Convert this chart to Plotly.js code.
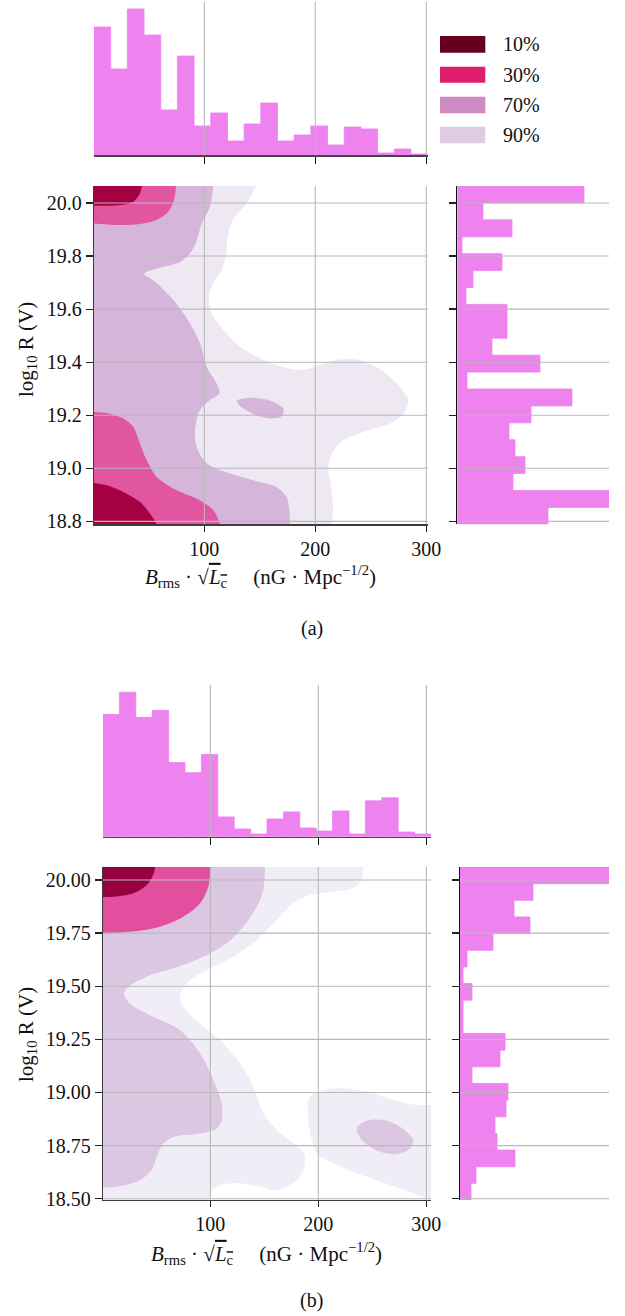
<!DOCTYPE html>
<html>
<head>
<meta charset="utf-8">
<script src="https://cdn.plot.ly/plotly-3.0.1.min.js"></script>
<style>html,body{margin:0;padding:0;background:#fff;}#chart{width:625px;height:1316px;}</style>
</head>
<body>
<div id="chart"></div>
<script>
// ---------------- DATA ----------------
const levels = ['10%', '30%', '70%', '90%'];
const legendColors = ['#67001f', '#de1d6e', '#cd8ac3', '#dfcbe3'];
const fillColorsA = ['#a50041', '#e255a0', '#d5b5da', '#eee8f3'];
const fillColorsB = ['#99003f', '#e24f9f', '#dcc7e2', '#f1edf6'];

const xTicks = [100, 200, 300];
const yTicksA = [18.8, 19.0, 19.2, 19.4, 19.6, 19.8, 20.0];
const yTicksB = [18.5, 18.75, 19.0, 19.25, 19.5, 19.75, 20.0];

// data extents (bin ranges)
const xRangeA = [0.6, 301.2];
const yRangeA = [18.789, 20.064];
const xRangeB = [0.6, 304.3];
const yRangeB = [18.494, 20.061];

// marginal histograms (20 bins each, relative heights)
const topHistA = [385, 259, 439, 361, 136, 298, 88, 127, 43, 94, 157, 43, 61, 88, 31, 85, 79, 7, 19, 4];
const rightHistA = [272, 455, 167, 203, 173, 155, 221, 344, 29, 248, 104, 149, 149, 26, 47, 134, 14, 164, 77, 380];
const topHistB = [365, 431, 356, 377, 221, 191, 245, 59, 23, 8, 53, 74, 26, 17, 77, 8, 107, 116, 14, 8];
const rightHistB = [33, 48, 165, 111, 105, 138, 144, 36, 120, 135, 9, 9, 36, 9, 21, 99, 210, 162, 219, 447];

// panel (a) contour outlines
const a90x = [-20, 154, 146.6, 138.3, 125.7, 121.3, 119.5, 115.7, 107.8, 104.2, 106.7, 117.1, 132.2, 147.2, 165.2, 183.2, 195.2, 207.2, 222.3, 237.3, 255.3, 273.3, 283.8, 279.3, 267.3, 243.2, 225.2, 214.8, 211.7, 213.2, 216, 215, 215, -20];
const a90y = [20.12, 20.12, 20.064, 20.0, 19.936, 19.879, 19.804, 19.747, 19.698, 19.645, 19.585, 19.521, 19.458, 19.42, 19.389, 19.372, 19.376, 19.395, 19.410, 19.410, 19.382, 19.320, 19.257, 19.206, 19.169, 19.137, 19.106, 19.055, 19.005, 18.955, 18.853, 18.789, 18.72, 18.72];
const a70x = [-20, 108.8, 108.0, 105.1, 97.7, 93.2, 87.1, 78.1, 63.1, 48.1, 45.7, 47.5, 54.1, 72.1, 87.1, 96.1, 102.2, 111.2, 113.5, 105.1, 96.1, 91.6, 93.2, 102.2, 123.2, 143.9, 165.2, 174.2, 176.6, 177.2, 177.3, -20];
const a70y = [20.12, 20.12, 20.064, 19.986, 19.923, 19.860, 19.810, 19.778, 19.760, 19.741, 19.732, 19.725, 19.709, 19.634, 19.546, 19.471, 19.382, 19.320, 19.282, 19.257, 19.219, 19.143, 19.080, 19.018, 18.980, 18.955, 18.929, 18.892, 18.842, 18.789, 18.72, 18.72];
const a70ex = [129.2, 138.2, 150.2, 162.2, 171.2, 169.7, 159.2, 147.2, 135.1, 129.2];
const a70ey = [19.254, 19.265, 19.263, 19.250, 19.225, 19.196, 19.188, 19.200, 19.225, 19.254];
const a30tx = [-20, 76, 74.5, 72.7, 67.6, 57.1, 42.1, 24.1, 0.6, -20];
const a30ty = [20.12, 20.12, 20.064, 20.011, 19.967, 19.936, 19.921, 19.917, 19.923, 19.925];
const a10tx = [-20, 45, 43.6, 42.1, 36.0, 24.1, 6.0, -20];
const a10ty = [20.12, 20.12, 20.064, 20.037, 20.005, 19.992, 19.990, 19.992];
const a30bx = [-20, 0.6, 15.0, 27.0, 36.0, 42.1, 48.1, 57.1, 75.1, 96.1, 108.1, 114.1, 116, -20];
const a30by = [19.212, 19.212, 19.206, 19.188, 19.156, 19.093, 19.030, 18.967, 18.917, 18.879, 18.842, 18.789, 18.72, 18.72];
const a10bx = [-20, 0.6, 12.1, 27.0, 42.1, 51.1, 57.1, 60, -20];
const a10by = [18.945, 18.945, 18.936, 18.911, 18.873, 18.829, 18.788, 18.72, 18.72];

// panel (b) contour outlines
const b90x = [-20, 243.5, 241.7, 240.2, 232.4, 213.9, 192.3, 176.9, 161.5, 143.0, 121.3, 96.7, 78.1, 71.9, 75.0, 90.5, 109.0, 127.5, 139.8, 149.1, 161.5, 176.9, 186.1, 187.7, 183.1, 170.7, 158.3, 146.0, 127.5, 109.0, 101.3, 98.1, 96.5, -20];
const b90y = [20.12, 20.12, 20.061, 20.000, 19.961, 19.945, 19.929, 19.890, 19.812, 19.718, 19.639, 19.576, 19.514, 19.451, 19.403, 19.325, 19.247, 19.137, 19.027, 18.902, 18.823, 18.760, 18.721, 18.666, 18.603, 18.556, 18.540, 18.556, 18.572, 18.564, 18.533, 18.494, 18.42, 18.42];
const b90rx = [192.3, 213.9, 244.8, 275.6, 291.1, 304.4, 320, 320, 300.4, 275.6, 244.8, 213.9, 198.5, 193.9, 190.7, 192.3];
const b90ry = [18.980, 19.019, 19.003, 18.956, 18.941, 18.941, 18.941, 18.46, 18.501, 18.548, 18.603, 18.666, 18.713, 18.776, 18.870, 18.980];
const b70x = [-20, 151.5, 150.6, 149.1, 143.0, 130.6, 115.2, 93.5, 65.7, 41.1, 24.1, 20.1, 25.6, 47.2, 71.9, 90.5, 102.8, 110.6, 110.6, 105.9, 90.5, 65.7, 56.5, 50.4, 45.7, 34.9, 16.4, 0.6, -20];
const b70y = [20.12, 20.12, 20.061, 19.953, 19.874, 19.780, 19.702, 19.639, 19.584, 19.545, 19.498, 19.467, 19.419, 19.356, 19.294, 19.184, 19.058, 18.949, 18.870, 18.831, 18.807, 18.791, 18.760, 18.697, 18.635, 18.588, 18.559, 18.553, 18.553];
const b70ex = [235.6, 244.8, 260.2, 275.6, 288.0, 284.9, 272.6, 257.1, 241.7, 235.6];
const b70ey = [18.839, 18.867, 18.870, 18.839, 18.776, 18.736, 18.710, 18.721, 18.768, 18.815];
const b30x = [-20, 101, 100.4, 98.1, 90.5, 75.0, 53.4, 28.7, 7.1, -20];
const b30y = [20.12, 20.12, 20.061, 19.968, 19.890, 19.827, 19.780, 19.757, 19.749, 19.749];
const b10x = [-20, 49.5, 48.8, 47.2, 41.1, 28.7, 10.2, -20];
const b10y = [20.12, 20.12, 20.061, 20.024, 19.976, 19.937, 19.921, 19.921];

// ---------------- BUILD ----------------
const FONT = 'Liberation Serif, DejaVu Serif, serif';
const W = 625, H = 1316;
const px = v => v / W;
const py = v => 1 - v / H;
const HIST = '#ee82ee';
const GRID = '#b9b9b9';

function fill(xs, ys, color, xa, ya) {
  return {type: 'scatter', x: xs, y: ys, mode: 'lines', fill: 'toself', fillcolor: color,
    line: {width: 0, shape: 'spline', smoothing: 0.9, color: color},
    xaxis: xa, yaxis: ya, hoverinfo: 'skip', showlegend: false};
}
function centers(r, n) {
  const w = (r[1] - r[0]) / n; const c = [];
  for (let i = 0; i < n; i++) c.push(r[0] + w * (i + 0.5));
  return {c: c, w: w};
}
const tA = centers(xRangeA, topHistA.length), rA = centers(yRangeA, rightHistA.length);
const tB = centers(xRangeB, topHistB.length), rB = centers(yRangeB, rightHistB.length);
const barMarker = {color: HIST, line: {width: 0.8, color: HIST}};

const traces = [
  fill(a90x, a90y, fillColorsA[3], 'x', 'y'),
  fill(a70x, a70y, fillColorsA[2], 'x', 'y'),
  fill(a70ex, a70ey, fillColorsA[2], 'x', 'y'),
  fill(a30tx, a30ty, fillColorsA[1], 'x', 'y'),
  fill(a30bx, a30by, fillColorsA[1], 'x', 'y'),
  fill(a10tx, a10ty, fillColorsA[0], 'x', 'y'),
  fill(a10bx, a10by, fillColorsA[0], 'x', 'y'),
  {type: 'bar', x: tA.c, y: topHistA, width: tA.w, marker: barMarker, xaxis: 'x2', yaxis: 'y2', hoverinfo: 'skip', showlegend: false},
  {type: 'bar', orientation: 'h', y: rA.c, x: rightHistA, width: rA.w, marker: barMarker, xaxis: 'x3', yaxis: 'y3', hoverinfo: 'skip', showlegend: false},

  fill(b90x, b90y, fillColorsB[3], 'x4', 'y4'),
  fill(b90rx, b90ry, fillColorsB[3], 'x4', 'y4'),
  fill(b70x, b70y, fillColorsB[2], 'x4', 'y4'),
  fill(b70ex, b70ey, fillColorsB[2], 'x4', 'y4'),
  fill(b30x, b30y, fillColorsB[1], 'x4', 'y4'),
  fill(b10x, b10y, fillColorsB[0], 'x4', 'y4'),
  {type: 'bar', x: tB.c, y: topHistB, width: tB.w, marker: barMarker, xaxis: 'x5', yaxis: 'y5', hoverinfo: 'skip', showlegend: false},
  {type: 'bar', orientation: 'h', y: rB.c, x: rightHistB, width: rB.w, marker: barMarker, xaxis: 'x6', yaxis: 'y6', hoverinfo: 'skip', showlegend: false}
];

const tickFont = {family: FONT, size: 20, color: '#111'};
function mainX(dom, range, anchor) {
  return {domain: dom, range: range, anchor: anchor, showgrid: false, zeroline: false,
    showline: true, linecolor: '#3c3c3c', linewidth: 1.3, ticks: 'outside', ticklen: 6, tickwidth: 1.2,
    tickcolor: '#222', tickvals: xTicks, tickfont: tickFont, fixedrange: true};
}
function mainY(dom, range, anchor, ticks, fmt) {
  return {domain: dom, range: range, anchor: anchor, showgrid: false, zeroline: false,
    showline: true, linecolor: '#3c3c3c', linewidth: 1.3, ticks: 'outside', ticklen: 7, tickwidth: 1.2,
    tickcolor: '#222', tickvals: ticks, tickformat: fmt, tickfont: tickFont, fixedrange: true};
}
function topX(dom, range, anchor) {
  return {domain: dom, range: range, anchor: anchor, showgrid: false, zeroline: false,
    showline: true, linecolor: '#444', linewidth: 1.4, ticks: 'outside', ticklen: 7, tickwidth: 1.3,
    tickcolor: '#111', tickvals: xTicks, showticklabels: false, fixedrange: true};
}
function rightY(dom, range, anchor, ticks) {
  return {domain: dom, range: range, anchor: anchor, showgrid: false, zeroline: false,
    showline: true, linecolor: '#111', linewidth: 1.3, ticks: 'outside', ticklen: 7, tickwidth: 1.3,
    tickcolor: '#222', tickvals: ticks, showticklabels: false, fixedrange: true};
}

const domAx = [px(94), px(427.6)], domAy = [py(524.3), py(186)], domAtop = [py(155.3), py(1.7)], domAr = [px(457.3), px(609)];
const domBx = [px(103), px(431)], domBy = [py(1200), py(867)], domBtop = [py(836.7), py(685)], domBr = [px(460), px(609)];

const shapes = [];
function vgrid(vals, xref, yref) {
  vals.forEach(v => shapes.push({type: 'line', xref: xref, yref: yref + ' domain', x0: v, x1: v, y0: 0, y1: 1,
    layer: 'above', line: {color: GRID, width: 1.1}}));
}
function hgrid(vals, xref, yref) {
  vals.forEach(v => shapes.push({type: 'line', xref: xref + ' domain', yref: yref, x0: 0, x1: 1, y0: v, y1: v,
    layer: 'above', line: {color: GRID, width: 1.1}}));
}
vgrid(xTicks, 'x', 'y'); hgrid(yTicksA, 'x', 'y');
vgrid(xTicks, 'x2', 'y2'); hgrid(yTicksA, 'x3', 'y3');
vgrid(xTicks, 'x4', 'y4'); hgrid(yTicksB, 'x4', 'y4');
vgrid(xTicks, 'x5', 'y5'); hgrid(yTicksB, 'x6', 'y6');

// legend patches
const legRows = [[36, 52.7], [66.7, 82.7], [96.7, 113.3], [126.7, 143.3]];
legRows.forEach((r, i) => shapes.push({type: 'rect', xref: 'paper', yref: 'paper',
  x0: px(440), x1: px(485.3), y0: py(r[1]), y1: py(r[0]), fillcolor: legendColors[i], line: {width: 0}, layer: 'above'}));

const ann = [];
const tf = {family: FONT, size: 20, color: '#111'};
const tt = {family: FONT, size: 21, color: '#111'};
const sp = '\u00a0';
const xTitle = '<i>B</i><sub>rms</sub>' + sp + '·' + sp + '√<span style="text-decoration:overline"><i>L</i><sub>c</sub></span>' + sp.repeat(5) + '(nG' + sp + '·' + sp + 'Mpc<sup>−1/2</sup>)';
const yTitle = 'log<sub>10</sub> R (V)';
ann.push({xref: 'paper', yref: 'paper', x: px(260.8), y: py(576.7), text: xTitle, showarrow: false, font: tt, xanchor: 'center', yanchor: 'middle'});
ann.push({xref: 'paper', yref: 'paper', x: px(27), y: py(350), text: yTitle, textangle: -90, showarrow: false, font: tt, xanchor: 'center', yanchor: 'middle'});
ann.push({xref: 'paper', yref: 'paper', x: px(266), y: py(1253), text: xTitle, showarrow: false, font: tt, xanchor: 'center', yanchor: 'middle'});
ann.push({xref: 'paper', yref: 'paper', x: px(27), y: py(1035), text: yTitle, textangle: -90, showarrow: false, font: tt, xanchor: 'center', yanchor: 'middle'});
ann.push({xref: 'paper', yref: 'paper', x: px(311.7), y: py(628.3), text: '(a)', showarrow: false, font: tf, xanchor: 'center', yanchor: 'middle'});
ann.push({xref: 'paper', yref: 'paper', x: px(311.7), y: py(1300), text: '(b)', showarrow: false, font: tf, xanchor: 'center', yanchor: 'middle'});
legRows.forEach((r, i) => ann.push({xref: 'paper', yref: 'paper', x: px(500.5), y: py((r[0] + r[1]) / 2), text: levels[i],
  showarrow: false, font: tf, xanchor: 'left', yanchor: 'middle'}));

const layout = {
  width: W, height: H, margin: {l: 0, r: 0, t: 0, b: 0}, paper_bgcolor: '#fff', plot_bgcolor: 'rgba(0,0,0,0)',
  showlegend: false, barmode: 'overlay', font: {family: FONT},
  xaxis: mainX(domAx, xRangeA, 'y'),
  yaxis: mainY(domAy, yRangeA, 'x', yTicksA, '.1f'),
  xaxis2: topX(domAx, xRangeA, 'y2'),
  yaxis2: {domain: domAtop, range: [0, Math.max(...topHistA) * 1.05], anchor: 'x2', visible: false, fixedrange: true},
  xaxis3: {domain: domAr, range: [0, Math.max(...rightHistA)], anchor: 'y3', visible: false, fixedrange: true},
  yaxis3: rightY(domAy, yRangeA, 'x3', yTicksA),
  xaxis4: mainX(domBx, xRangeB, 'y4'),
  yaxis4: mainY(domBy, yRangeB, 'x4', yTicksB, '.2f'),
  xaxis5: topX(domBx, xRangeB, 'y5'),
  yaxis5: {domain: domBtop, range: [0, Math.max(...topHistB) * 1.05], anchor: 'x5', visible: false, fixedrange: true},
  xaxis6: {domain: domBr, range: [0, Math.max(...rightHistB)], anchor: 'y6', visible: false, fixedrange: true},
  yaxis6: rightY(domBy, yRangeB, 'x6', yTicksB),
  shapes: shapes,
  annotations: ann
};

Plotly.newPlot('chart', traces, layout, {staticPlot: true, displayModeBar: false});
</script>
</body>
</html>
